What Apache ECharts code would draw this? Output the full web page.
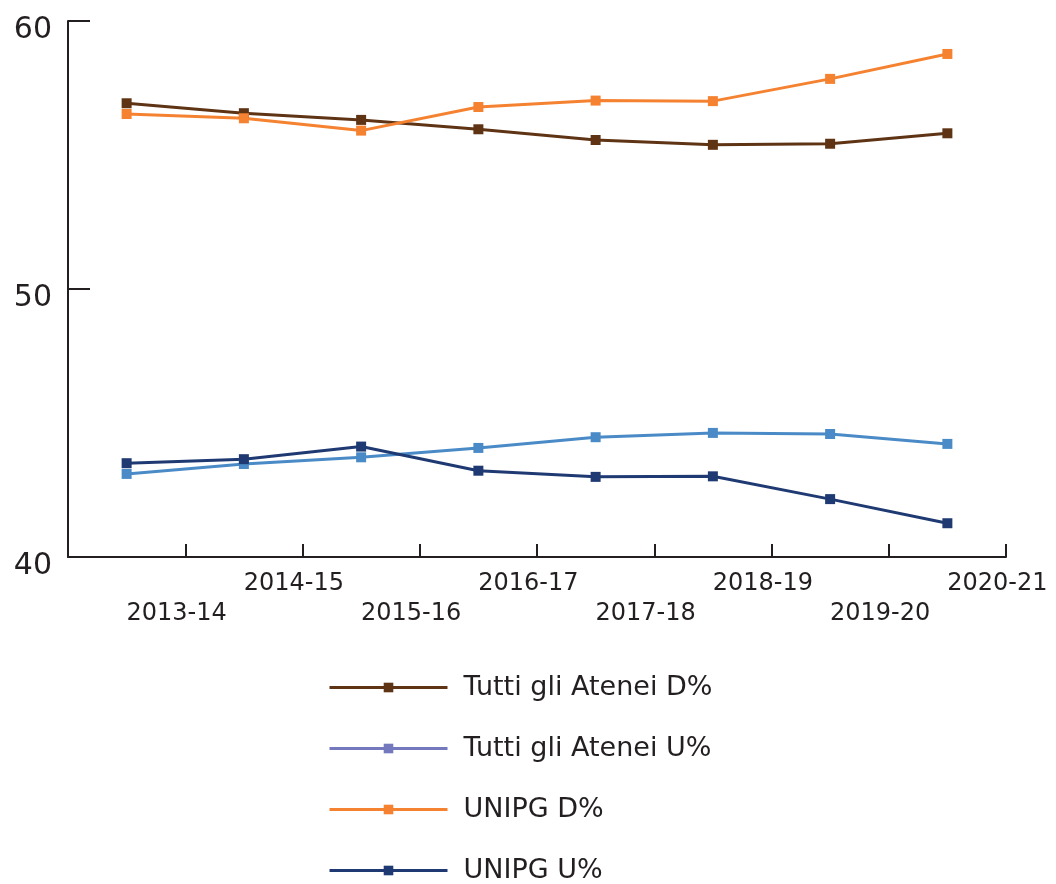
<!DOCTYPE html>
<html>
<head>
<meta charset="utf-8">
<script src="https://cdn.jsdelivr.net/npm/echarts@6/dist/echarts.min.js"></script>
<style>
html,body{margin:0;padding:0;background:#fff;}
#chart{width:1056px;height:884px;}
</style>
</head>
<body>
<div id="chart"></div>
<script>
const categories = ['2013-14','2014-15','2015-16','2016-17','2017-18','2018-19','2019-20','2020-21'];
const tuttiD = [56.93, 56.56, 56.31, 55.96, 55.56, 55.38, 55.42, 55.81];
const tuttiU = [43.10, 43.47, 43.72, 44.07, 44.47, 44.63, 44.59, 44.22];
const unipgD = [56.53, 56.37, 55.91, 56.79, 57.03, 57.01, 57.84, 58.77];
const unipgU = [43.50, 43.65, 44.12, 43.22, 42.99, 43.01, 42.16, 41.26];
const yTicks = [40, 50, 60];

const FONT = '"DejaVu Sans", "Open Sans", sans-serif';
const TXT = '#231f20';
const C_BROWN = '#5f3415', C_LIGHT = '#4a8bc7', C_ORANGE = '#f58231', C_NAVY = '#1f3a73', C_LEG_U = '#7479bd';

function mk(name, data, color) {
  return {
    name, type: 'line', data,
    symbol: 'rect', symbolSize: 10,
    lineStyle: { color, width: 3 },
    itemStyle: { color },
    emphasis: { disabled: true },
    animation: false
  };
}

const chart = echarts.init(document.getElementById('chart'), null, { renderer: 'canvas' });
chart.setOption({
  animation: false,
  textStyle: { fontFamily: FONT },
  grid: { left: 68, right: 50, top: 21, bottom: 327, containLabel: false },
  xAxis: {
    type: 'category', data: categories, boundaryGap: true,
    axisLine: { lineStyle: { color: TXT, width: 2 } },
    axisTick: { show: true, inside: true, length: 13, interval: 0, lineStyle: { color: TXT, width: 2 } },
    axisLabel: {
      interval: 0, fontSize: 24, lineHeight: 30, color: TXT, fontFamily: FONT,
      margin: 12, padding: [0, 0, 0, 100],
      formatter: (v, i) => (i % 2 === 0 ? '\n' + v : v)
    },
    splitLine: { show: false }
  },
  yAxis: {
    type: 'value', min: yTicks[0], max: yTicks[yTicks.length - 1], interval: 10,
    axisLine: { show: true, lineStyle: { color: TXT, width: 2 } },
    axisTick: { show: true, inside: true, length: 22, lineStyle: { color: TXT, width: 2 } },
    axisLabel: { fontSize: 30, color: TXT, fontFamily: FONT, margin: 16, verticalAlign: 'top', lineHeight: 19 },
    splitLine: { show: false }
  },
  legend: {
    orient: 'vertical', left: 328, top: 674, height: 260, padding: 0,
    itemWidth: 118, itemHeight: 12, itemGap: 34,
    lineStyle: { width: 3 },
    textStyle: { fontSize: 27, lineHeight: 20, color: TXT, fontFamily: FONT, padding: [0, 0, 0, 11] },
    data: [
      { name: 'Tutti gli Atenei D%' },
      { name: 'Tutti gli Atenei U%', itemStyle: { color: C_LEG_U }, lineStyle: { color: C_LEG_U, width: 3 } },
      { name: 'UNIPG D%' },
      { name: 'UNIPG U%' }
    ]
  },
  series: [
    mk('Tutti gli Atenei D%', tuttiD, C_BROWN),
    mk('Tutti gli Atenei U%', tuttiU, C_LIGHT),
    mk('UNIPG D%', unipgD, C_ORANGE),
    mk('UNIPG U%', unipgU, C_NAVY)
  ]
});
</script>
</body>
</html>
